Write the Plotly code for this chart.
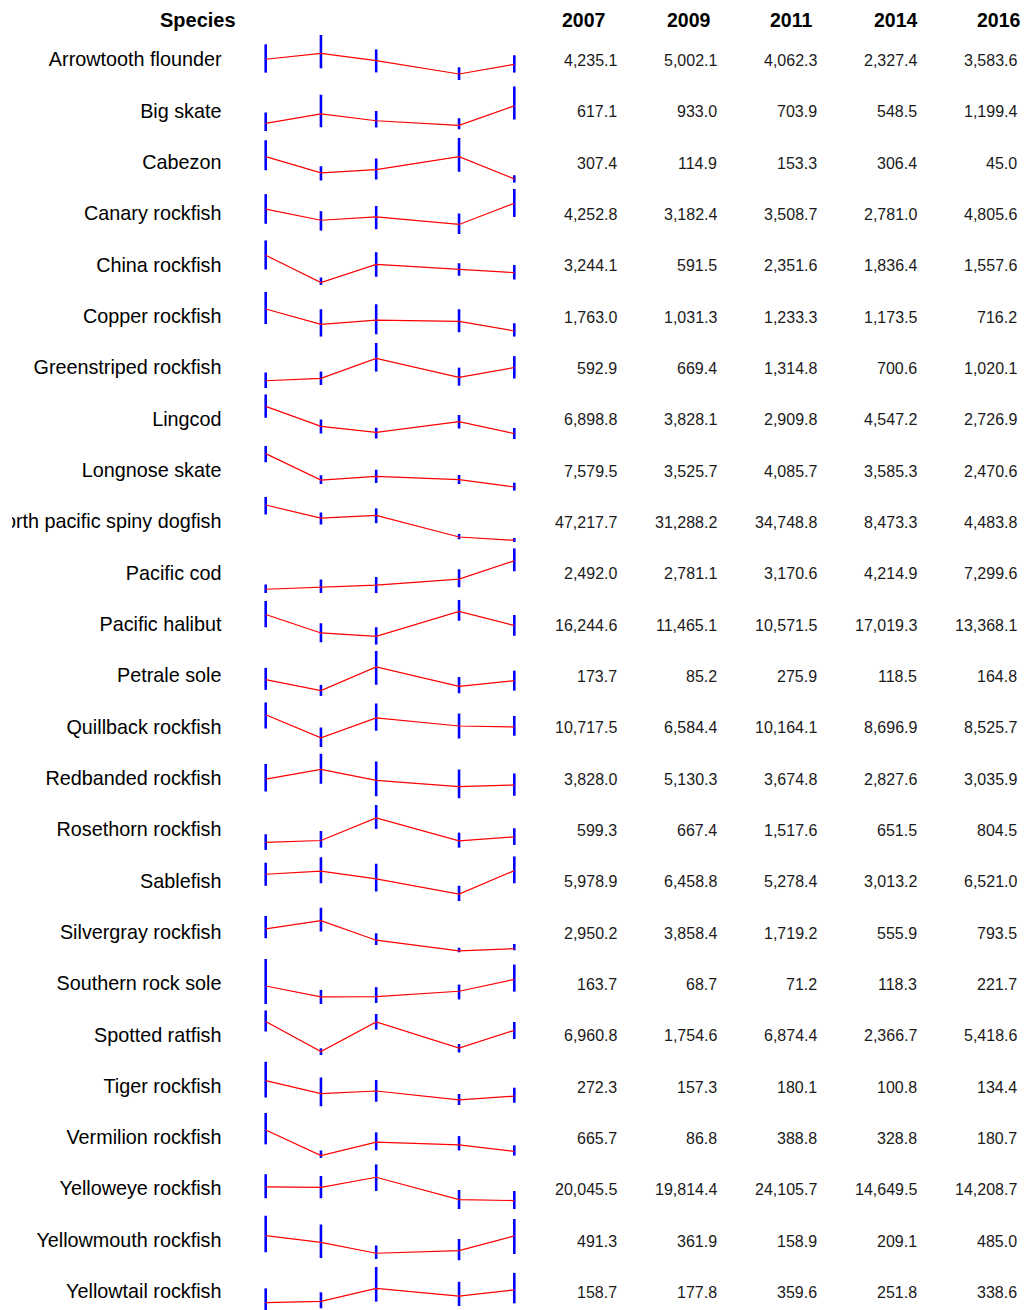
import plotly.graph_objects as go

# ---------------- data ----------------
species = ["Arrowtooth flounder", "Big skate", "Cabezon", "Canary rockfish", "China rockfish",
           "Copper rockfish", "Greenstriped rockfish", "Lingcod", "Longnose skate",
           "North pacific spiny dogfish", "Pacific cod", "Pacific halibut", "Petrale sole",
           "Quillback rockfish", "Redbanded rockfish", "Rosethorn rockfish", "Sablefish",
           "Silvergray rockfish", "Southern rock sole", "Spotted ratfish", "Tiger rockfish",
           "Vermilion rockfish", "Yelloweye rockfish", "Yellowmouth rockfish", "Yellowtail rockfish"]
years = [2007, 2009, 2011, 2014, 2016]
year_labels = ["2007", "2009", "2011", "2014", "2016"]

idx_2007 = [4235.1, 617.1, 307.4, 4252.8, 3244.1, 1763.0, 592.9, 6898.8, 7579.5, 47217.7, 2492.0, 16244.6, 173.7,
            10717.5, 3828.0, 599.3, 5978.9, 2950.2, 163.7, 6960.8, 272.3, 665.7, 20045.5, 491.3, 158.7]
idx_2009 = [5002.1, 933.0, 114.9, 3182.4, 591.5, 1031.3, 669.4, 3828.1, 3525.7, 31288.2, 2781.1, 11465.1, 85.2,
            6584.4, 5130.3, 667.4, 6458.8, 3858.4, 68.7, 1754.6, 157.3, 86.8, 19814.4, 361.9, 177.8]
idx_2011 = [4062.3, 703.9, 153.3, 3508.7, 2351.6, 1233.3, 1314.8, 2909.8, 4085.7, 34748.8, 3170.6, 10571.5, 275.9,
            10164.1, 3674.8, 1517.6, 5278.4, 1719.2, 71.2, 6874.4, 180.1, 388.8, 24105.7, 158.9, 359.6]
idx_2014 = [2327.4, 548.5, 306.4, 2781.0, 1836.4, 1173.5, 700.6, 4547.2, 3585.3, 8473.3, 4214.9, 17019.3, 118.5,
            8696.9, 2827.6, 651.5, 3013.2, 555.9, 118.3, 2366.7, 100.8, 328.8, 14649.5, 209.1, 251.8]
idx_2016 = [3583.6, 1199.4, 45.0, 4805.6, 1557.6, 716.2, 1020.1, 2726.9, 2470.6, 4483.8, 7299.6, 13368.1, 164.8,
            8525.7, 3035.9, 804.5, 6521.0, 793.5, 221.7, 5418.6, 134.4, 180.7, 14208.7, 485.0, 338.6]

# confidence interval bounds (estimated from the bars)
lo_2007 = [2501, 352, 146, 2846, 1868, 1049, 359, 5148, 6251, 35822, 1862, 12945, 91, 8238, 2184, 310, 4279, 1929,
           8, 5206, 122, 341, 15196, 178, 28]
hi_2007 = [6168, 982, 501, 5686, 4685, 2588, 859, 8753, 8806, 56986, 3293, 19732, 268, 12962, 5868, 901, 7689, 4342,
           399, 8892, 441, 1052, 25377, 867, 360]
lo_2009 = [3061, 484, 25, 2193, 330, 446, 454, 2726, 2928, 23555, 1808, 9047, 42, 4872, 3196, 398, 4622, 2670,
           8, 1111, 42, 33, 15190, 71, 79]
hi_2009 = [7375, 1569, 194, 4054, 1083, 1746, 890, 4889, 4257, 38207, 4155, 13968, 131, 8414, 7248, 1027, 8520, 5268,
           130, 2340, 299, 203, 24664, 698, 304]
lo_2011 = [2535, 483, 37, 2324, 1150, 557, 890, 1957, 3085, 25225, 1803, 8451, 132, 7826, 1538, 1103, 3402, 1185,
           16, 5558, 86, 203, 18309, 52, 173]
hi_2011 = [5512, 1025, 287, 4544, 3541, 1985, 1814, 3605, 5128, 43133, 4550, 12948, 404, 12726, 6189, 2009, 7543, 2483,
           154, 8249, 278, 612, 29621, 303, 663]
lo_2014 = [1550, 418, 129, 1867, 1246, 654, 433, 3502, 2931, 5705, 2836, 14643, 64, 6465, 1216, 397, 1941, 370,
           47, 1577, 57, 202, 10535, 21, 112]
hi_2014 = [3190, 787, 532, 3826, 2458, 1748, 1017, 5562, 4310, 12217, 5869, 20073, 194, 10952, 5131, 964, 4280, 890,
           176, 3040, 154, 527, 18736, 428, 453]
lo_2016 = [2510, 743, 0, 3500, 887, 446, 666, 1851, 1909, 2449, 5526, 10738, 85, 6938, 1585, 499, 4621, 630,
           115, 3921, 77, 87, 10533, 146, 149]
hi_2016 = [4753, 1850, 89, 6177, 2295, 1081, 1389, 3603, 3135, 7333, 9418, 16083, 246, 10480, 4579, 1128, 8665, 1298,
           350, 6846, 210, 318, 18310, 805, 579]

# ---------------- layout constants ----------------
W, H = 1028, 1310
FONT = "Liberation Sans, Arial, sans-serif"
PITCH = 51.33          # px between rows
NAME_C0 = 61.3         # px, anchor of first row species name
VAL_C0 = 60.5          # px, centre of first row values
BAND_C0 = 57.5         # px, centre of first sparkline band
BAND_H = 45.0          # px, height of sparkline band
X2007, X2016 = 265.7, 514.3
PAD_YR = 0.5
NAME_RIGHT = 221.5     # px, anchor for right edge of species names
NAME_CLIP = 12         # px, left clip of species column
VAL_RIGHT = [619, 719, 819, 919, 1019]
HDR_X = [583.5, 688.5, 790.5, 896, 999]
HDR_Y = 20
SPECIES_HDR_X = 198

vals_by_year = [idx_2007, idx_2009, idx_2011, idx_2014, idx_2016]
lo_by_year = [lo_2007, lo_2009, lo_2011, lo_2014, lo_2016]
hi_by_year = [hi_2007, hi_2009, hi_2011, hi_2014, hi_2016]

fig = go.Figure()
layout = {}

pxyr = (X2016 - X2007) / (years[-1] - years[0])
layout["xaxis"] = dict(domain=[(X2007 - PAD_YR * pxyr) / W, (X2016 + PAD_YR * pxyr) / W],
                       range=[years[0] - PAD_YR, years[-1] + PAD_YR], visible=False,
                       anchor="y2", fixedrange=True)

n = len(species)
for i in range(n):
    v = [vals_by_year[k][i] for k in range(5)]
    lo = [lo_by_year[k][i] for k in range(5)]
    hi = [hi_by_year[k][i] for k in range(5)]
    c = BAND_C0 + PITCH * i
    top_px, bot_px = c - BAND_H / 2, c + BAND_H / 2
    rmin, rmax = min(lo), max(hi)
    per_px = (rmax - rmin) / BAND_H
    # keep the band inside the page, trimming the range to keep the scale
    if bot_px > H:
        rmin = rmin + (bot_px - H) * per_px
        bot_px = H
    if top_px < 0:
        rmax = rmax - (0 - top_px) * per_px
        top_px = 0
    ax = f"yaxis{i + 2}"
    layout[ax] = dict(domain=[1 - bot_px / H, 1 - top_px / H],
                      range=[rmin, rmax], visible=False, anchor="x", fixedrange=True)
    fig.add_trace(go.Scatter(
        x=years, y=v, mode="lines",
        line=dict(color="#FF0000", width=1.2),
        error_y=dict(type="data", symmetric=False,
                     array=[h - a for h, a in zip(hi, v)],
                     arrayminus=[a - l for a, l in zip(v, lo)],
                     color="#0000FF", thickness=2.6, width=0),
        xaxis="x", yaxis=f"y{i + 2}", showlegend=False, hoverinfo="skip"))

# species names (clipped column)
layout["xaxis2"] = dict(domain=[NAME_CLIP / W, 250 / W], range=[NAME_CLIP, 250], visible=False,
                        anchor="y", fixedrange=True)
layout["yaxis"] = dict(domain=[0, 1], range=[(H - NAME_C0) / PITCH, -NAME_C0 / PITCH],
                       visible=False, anchor="x2", fixedrange=True)
fig.add_trace(go.Scatter(
    x=[NAME_RIGHT] * n, y=list(range(n)), text=species, mode="text",
    textposition="middle left", textfont=dict(family=FONT, size=19.8, color="#000000"),
    xaxis="x2", yaxis="y", cliponaxis=True, showlegend=False, hoverinfo="skip"))

annotations = []
annotations.append(dict(text="<b>Species</b>", x=SPECIES_HDR_X / W, y=1 - HDR_Y / H,
                        xref="paper", yref="paper", xanchor="center", yanchor="middle",
                        showarrow=False, font=dict(family=FONT, size=20, color="#000000")))
for k in range(5):
    annotations.append(dict(text=f"<b>{year_labels[k]}</b>", x=HDR_X[k] / W, y=1 - HDR_Y / H,
                            xref="paper", yref="paper", xanchor="center", yanchor="middle",
                            showarrow=False, font=dict(family=FONT, size=19.5, color="#000000")))
    for i in range(n):
        annotations.append(dict(text=f"{vals_by_year[k][i]:,.1f}", x=VAL_RIGHT[k] / W,
                                y=1 - (VAL_C0 + PITCH * i) / H,
                                xref="paper", yref="paper", xanchor="right", yanchor="middle",
                                showarrow=False, font=dict(family=FONT, size=16, color="#1a1a1a")))

fig.update_layout(**layout)
fig.update_layout(width=W, height=H, margin=dict(l=0, r=0, t=0, b=0),
                  paper_bgcolor="white", plot_bgcolor="rgba(0,0,0,0)",
                  annotations=annotations, showlegend=False)

fig.write_html("out.html", config={"displayModeBar": False},
               post_script="document.body.style.margin='0px';document.body.style.overflow='hidden';")
